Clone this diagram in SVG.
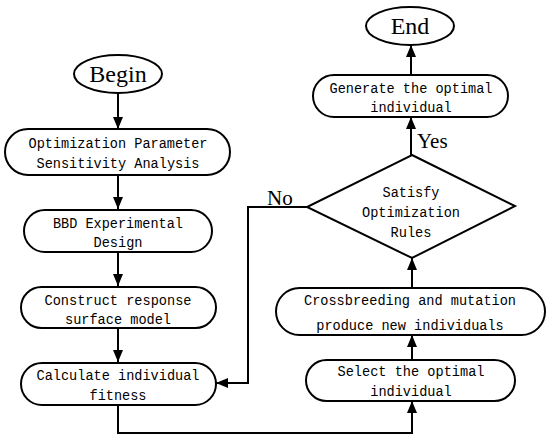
<svg xmlns="http://www.w3.org/2000/svg" width="550" height="442" viewBox="0 0 550 442">
<style>
.s{fill:#fff;stroke:#000;stroke-width:2}
.t{font-family:"Liberation Mono",monospace;font-size:15.5px;text-anchor:middle;fill:#000}
.b{font-family:"Liberation Serif",serif;font-size:24px;text-anchor:middle;fill:#000}
.l{font-family:"Liberation Serif",serif;font-size:21px;fill:#000}
.c{fill:none;stroke:#000;stroke-width:2}
</style>
<defs>
<marker id="a" markerWidth="12" markerHeight="10" refX="12" refY="5" orient="auto" markerUnits="userSpaceOnUse">
<path d="M0,0 L12,5 L0,10 Z" fill="#000"/>
</marker>
</defs>
<rect width="550" height="442" fill="#fff"/>
<g id="connectors">
<path class="c" d="M118,93 V129" marker-end="url(#a)"/>
<path class="c" d="M118,175 V209" marker-end="url(#a)"/>
<path class="c" d="M118,252 V286" marker-end="url(#a)"/>
<path class="c" d="M118,328 V362" marker-end="url(#a)"/>
<path class="c" d="M307,207 H248 V383 H216" marker-end="url(#a)"/>
<path class="c" d="M118,405 V433 H412 V401" marker-end="url(#a)"/>
<path class="c" d="M412,360 V335" marker-end="url(#a)"/>
<path class="c" d="M412,288 V258" marker-end="url(#a)"/>
<path class="c" d="M411,155 V117" marker-end="url(#a)"/>
<path class="c" d="M411,75 V45" marker-end="url(#a)"/>
<text class="l" x="267" y="205">No</text>
<text class="l" x="417" y="148">Yes</text>
</g>
<g id="begin">
<ellipse class="s" cx="118" cy="74" rx="44" ry="19"/>
<text class="b" x="118" y="82">Begin</text>
</g>
<g id="sensitivity">
<rect class="s" x="5" y="129" width="225" height="46" rx="23"/>
<text class="t" x="118" y="148" textLength="179" lengthAdjust="spacingAndGlyphs">Optimization Parameter</text>
<text class="t" x="118" y="168" textLength="163" lengthAdjust="spacingAndGlyphs">Sensitivity Analysis</text>
</g>
<g id="bbd">
<rect class="s" x="24" y="210" width="188" height="42" rx="21"/>
<text class="t" x="118" y="228" textLength="130" lengthAdjust="spacingAndGlyphs">BBD Experimental</text>
<text class="t" x="118" y="247" textLength="49" lengthAdjust="spacingAndGlyphs">Design</text>
</g>
<g id="construct">
<rect class="s" x="21" y="287" width="195" height="41" rx="20.5"/>
<text class="t" x="118" y="305" textLength="147" lengthAdjust="spacingAndGlyphs">Construct response</text>
<text class="t" x="118" y="324" textLength="106" lengthAdjust="spacingAndGlyphs">surface model</text>
</g>
<g id="calculate">
<rect class="s" x="21" y="363" width="195" height="42" rx="21"/>
<text class="t" x="118" y="380" textLength="163" lengthAdjust="spacingAndGlyphs">Calculate individual</text>
<text class="t" x="118" y="400" textLength="57" lengthAdjust="spacingAndGlyphs">fitness</text>
</g>
<g id="select">
<rect class="s" x="306" y="360" width="209" height="41" rx="20.5"/>
<text class="t" x="411" y="376" textLength="147" lengthAdjust="spacingAndGlyphs">Select the optimal</text>
<text class="t" x="411" y="396" textLength="81.5" lengthAdjust="spacingAndGlyphs">individual</text>
</g>
<g id="crossbreeding">
<rect class="s" x="276" y="288" width="269" height="47" rx="23.5"/>
<text class="t" x="410" y="305" textLength="212" lengthAdjust="spacingAndGlyphs">Crossbreeding and mutation</text>
<text class="t" x="410" y="330" textLength="187.5" lengthAdjust="spacingAndGlyphs">produce new individuals</text>
</g>
<g id="decision">
<path class="s" d="M412,155 L515,206 L412,258 L307,207 Z"/>
<text class="t" x="411" y="197" textLength="57" lengthAdjust="spacingAndGlyphs">Satisfy</text>
<text class="t" x="411" y="217" textLength="98" lengthAdjust="spacingAndGlyphs">Optimization</text>
<text class="t" x="411" y="237" textLength="41" lengthAdjust="spacingAndGlyphs">Rules</text>
</g>
<g id="generate">
<rect class="s" x="313" y="75" width="195" height="42" rx="21"/>
<text class="t" x="411" y="93" textLength="163" lengthAdjust="spacingAndGlyphs">Generate the optimal</text>
<text class="t" x="411" y="112" textLength="81.5" lengthAdjust="spacingAndGlyphs">individual</text>
</g>
<g id="end">
<ellipse class="s" cx="410" cy="26" rx="44" ry="19"/>
<text class="b" x="410" y="34">End</text>
</g>
</svg>
